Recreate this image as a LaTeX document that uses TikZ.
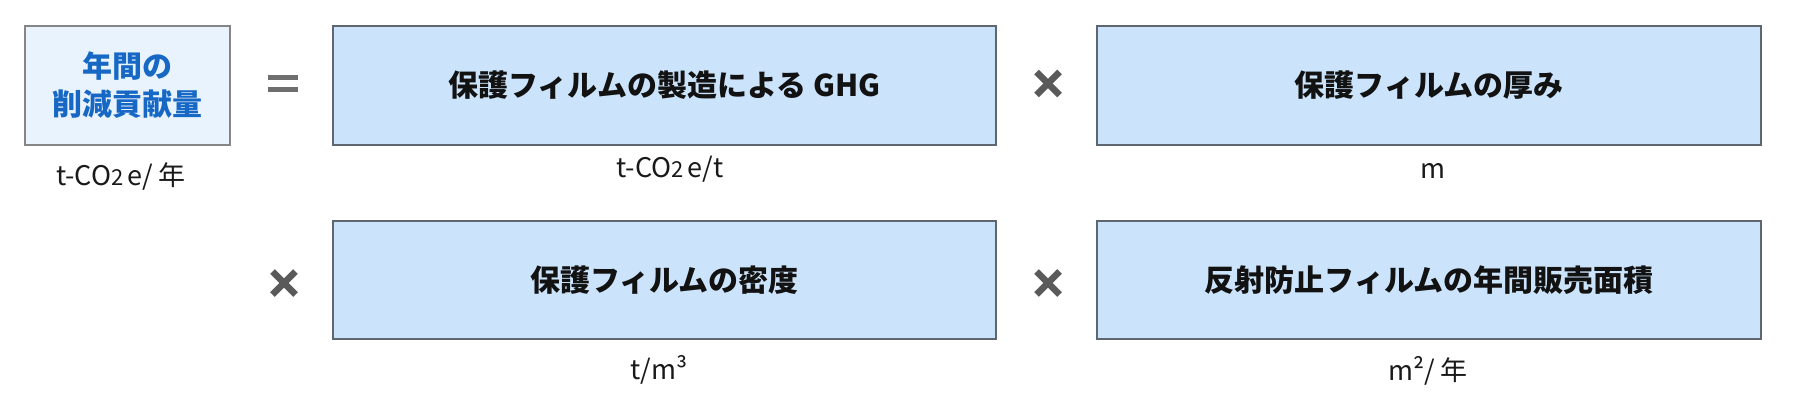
\documentclass[tikz,border=0pt]{standalone}
\usepackage{fontspec}
\setmainfont{Noto Sans CJK JP}
\definecolor{boxfill}{HTML}{CCE4FB}
\definecolor{boxline}{HTML}{5E6670}
\definecolor{resfill}{HTML}{E8F3FD}
\definecolor{resline}{HTML}{858585}
\definecolor{restext}{HTML}{1668C4}
\definecolor{opgray}{HTML}{5A5A5A}
\definecolor{eqgray}{HTML}{6E6E6E}
\newcommand{\subtwo}{{\fontsize{22}{22}\selectfont 2}\kern4pt}
\tikzset{
  factor/.style={draw=boxline, line width=2pt, fill=boxfill, minimum width=663pt,
    inner sep=0pt, font=\fontsize{30}{36}\selectfont\bfseries, text=black!93},
  result/.style={draw=resline, line width=2.5pt, fill=resfill, minimum width=205pt,
    minimum height=119pt, inner sep=0pt, align=center,
    font=\fontsize{30}{38}\selectfont\bfseries, text=restext},
  unit/.style={anchor=base, inner sep=0pt, font=\fontsize{27}{30}\selectfont, text=black!90},
  opline/.style={draw=opgray, line width=6.5pt},
}
\begin{document}
\begin{tikzpicture}[x=1pt,y=-1pt]
\useasboundingbox (0,0) rectangle (1800,400);
% result box
\node[result] (res) at (127.5,85.5) {年間の\\削減貢献量};
\node[unit] (ures) at (121,185) {t-CO\subtwo e/ 年};
% equal sign
\fill[eqgray] (268,75) rectangle (298,80);
\fill[eqgray] (268,87) rectangle (298,92);
\coordinate (eq) at (283,83.5);
% factor boxes
\node[factor, minimum height=119pt] (ghg) at (664.5,85.5) {保護フィルムの製造による GHG};
\node[unit] (ughg) at (670,177) {t-CO\subtwo e/t};
\node[factor, minimum width=664pt, minimum height=119pt] (thk) at (1429,85.5) {保護フィルムの厚み};
\node[unit] (uthk) at (1433,178) {m};
\node[factor, minimum height=118pt] (den) at (664.5,280) {保護フィルムの密度};
\node[unit] (uden) at (659,379) {t/m³};
\node[factor, minimum width=664pt, minimum height=118pt] (area) at (1429,280) {反射防止フィルムの年間販売面積};
\node[unit] (uarea) at (1428,380) {m²/ 年};
% multiplication signs
\foreach \n/\cx/\cy in {x1/1048/83.5, x2/284/283, x3/1048/283}{
  \coordinate (\n) at (\cx,\cy);
  \draw[opline] ([shift={(-11.5,-11.5)}]\n) -- ([shift={(11.5,11.5)}]\n);
  \draw[opline] ([shift={(-11.5,11.5)}]\n) -- ([shift={(11.5,-11.5)}]\n);
}
\end{tikzpicture}
\end{document}
